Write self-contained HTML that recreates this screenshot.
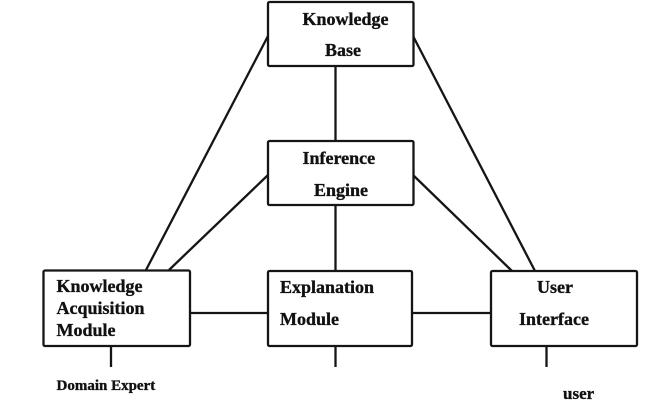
<!DOCTYPE html>
<html><head><meta charset="utf-8"><style>
html,body{margin:0;padding:0;background:#fff;}
svg{display:block;}
text{font-family:"Liberation Serif",serif;font-weight:bold;fill:#111;stroke:#111;stroke-width:0.35;}
</style></head><body>
<svg width="658" height="403" viewBox="0 0 658 403" xmlns="http://www.w3.org/2000/svg">
<g stroke="#151515" stroke-width="2.3" fill="none">
<line x1="268" y1="36" x2="146" y2="270"/>
<line x1="268" y1="175" x2="169" y2="270"/>
<line x1="413" y1="36" x2="535" y2="271"/>
<line x1="413" y1="175" x2="512" y2="271"/>
<line x1="335.5" y1="66" x2="335.5" y2="141"/>
<line x1="335.5" y1="205" x2="335.5" y2="271"/>
<line x1="190" y1="313" x2="268" y2="313"/>
<line x1="412" y1="313" x2="491" y2="313"/>
<line x1="111" y1="346" x2="111" y2="367"/>
<line x1="335.5" y1="346" x2="335.5" y2="367"/>
<line x1="546.5" y1="346" x2="546.5" y2="367"/>
<rect x="268" y="2" width="145.5" height="64" rx="1.5" fill="#fff"/>
<rect x="268" y="141" width="145.5" height="64" rx="1.5" fill="#fff"/>
<rect x="43.5" y="270.5" width="146.5" height="75.5" rx="1.5" fill="#fff"/>
<rect x="268" y="271" width="144" height="75" rx="1.5" fill="#fff"/>
<rect x="491" y="271" width="146" height="75" rx="1.5" fill="#fff"/>
</g>
<g font-size="18">
<text x="302.5" y="25">Knowledge</text>
<text x="325" y="56">Base</text>
<text x="302.5" y="164">Inference</text>
<text x="314" y="196">Engine</text>
<text x="56.5" y="292">Knowledge</text>
<text x="56.5" y="314">Acquisition</text>
<text x="56.5" y="336">Module</text>
<text x="280" y="293">Explanation</text>
<text x="280" y="325">Module</text>
<text x="537" y="293">User</text>
<text x="519" y="325">Interface</text>
</g>
<text x="56.5" y="390" font-size="15">Domain Expert</text>
<text x="563" y="399" font-size="17">user</text>
</svg>
</body></html>
